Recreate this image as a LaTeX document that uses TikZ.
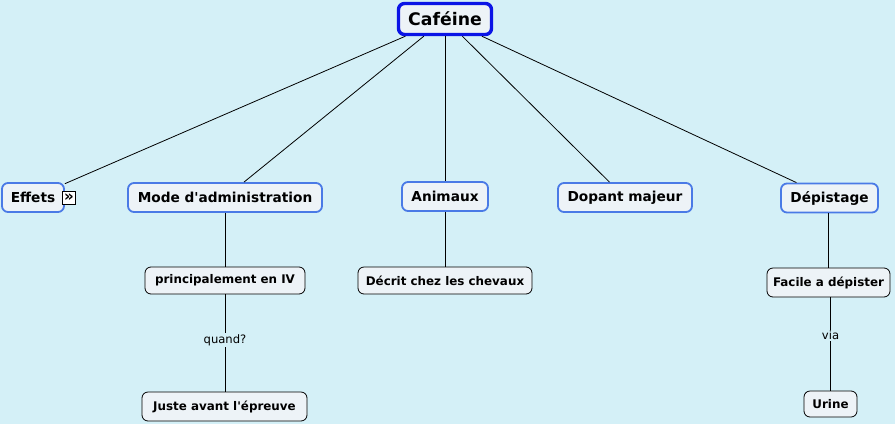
\documentclass[tikz,border=0pt]{standalone}
\usepackage{fontspec}
\setmainfont{DejaVu Sans}
\usetikzlibrary{positioning}
\definecolor{mBack}{HTML}{D4F0F7}
\definecolor{mFill}{HTML}{EDF3F7}
\definecolor{mBlue}{HTML}{4A7AE6}
\definecolor{mRoot}{HTML}{0A14E6}

\begin{document}
\begin{tikzpicture}[x=1pt, y=-1pt,
    rootbox/.style={draw=mRoot, line width=3.4pt, rounded corners=6pt, fill=mFill,
      minimum width=93pt, minimum height=31pt, font=\fontsize{17.3}{20}\selectfont\bfseries},
    topicbox/.style={draw=mBlue, line width=1.8pt, rounded corners=6pt, fill=mFill,
      minimum height=29pt, inner xsep=7pt, font=\fontsize{13.7}{16}\selectfont\bfseries},
    leafbox/.style={draw=black, line width=0.8pt, rounded corners=6pt, fill=mFill,
      minimum height=27pt, inner xsep=6pt, font=\fontsize{11.9}{14}\selectfont\bfseries},
    linklbl/.style={fill=mBack, inner sep=1pt, font=\fontsize{11.6}{13}\selectfont},
    link/.style={draw=black, line width=0.8pt}]
    \useasboundingbox (0,0) rectangle (895,424);
    \fill[mBack] (0,0) rectangle (895,424);
    % root
    \node[rootbox] (cafeine) at (445,19) {Caféine};
    % first level
    \node[topicbox, minimum width=62pt] (effets) at (33,197.5) {Effets};
    \node[topicbox, minimum width=194pt] (mode) at (225,197.5) {Mode d\textquotesingle administration};
    \node[topicbox, minimum width=86pt] (animaux) at (445,196.5) {Animaux};
    \node[topicbox, minimum width=134pt] (dopant) at (625,197.5) {Dopant majeur};
    \node[topicbox, minimum width=97pt] (depistage) at (829.5,198) {Dépistage};
    \foreach \n in {effets, mode, animaux, dopant, depistage}
      \draw[link] (cafeine) -- (\n);
    % icon next to Effets
    \node[draw=black, line width=0.7pt, fill=white, minimum size=13pt, inner sep=0pt,
      font=\fontsize{15}{15}\selectfont\bfseries] (effetsicon) at (69,197.5) {»};
    % second level
    \node[leafbox, minimum width=160pt] (iv) at (225,280.5) {principalement en IV};
    \node[leafbox, minimum width=165pt, minimum height=29pt] (epreuve) at (224.5,406.5) {Juste avant l\textquotesingle épreuve};
    \node[leafbox, minimum width=174pt] (chevaux) at (445,280.5) {Décrit chez les chevaux};
    \node[leafbox, minimum width=123pt, minimum height=29pt] (facile) at (828.5,282.5) {Facile a dépister};
    \node[leafbox, minimum width=53pt, minimum height=26pt] (urine) at (830.5,404) {Urine};
    \draw[link] (mode) -- (iv);
    \draw[link] (animaux) -- (chevaux);
    \draw[link] (depistage.south -| facile) -- (facile);
    \draw[link] (iv) -- node[linklbl, pos=0.47] (quand) {quand?} (iv |- epreuve.north);
    \draw[link] (facile.south -| urine) -- node[linklbl, pos=0.41] (via) {via} (urine);
  \end{tikzpicture}
\end{document}
